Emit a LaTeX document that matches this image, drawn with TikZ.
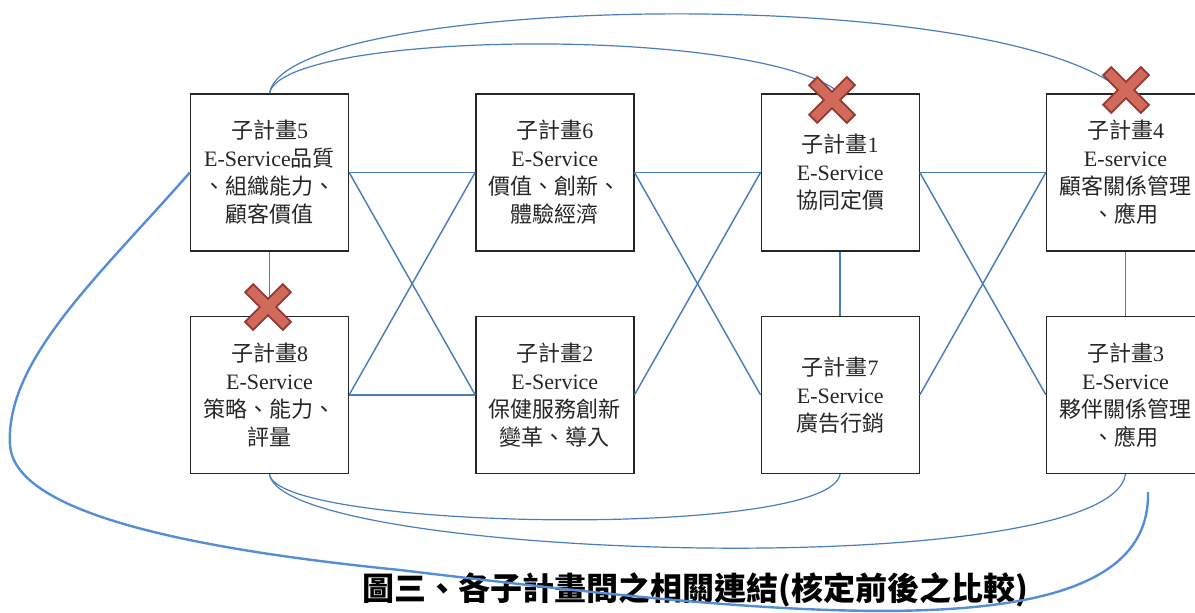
\documentclass[tikz,border=0pt]{standalone}
\usepackage{fontspec}
\setmainfont{Liberation Serif}
\newfontfamily\cjk{Noto Sans CJK TC}
\newcommand\zh[1]{{\cjk #1}}
\usetikzlibrary{positioning}
\definecolor{linkblue}{HTML}{4A7EBB}
\definecolor{curveblue}{HTML}{558ED5}
\definecolor{crossfill}{HTML}{D26A5C}
\definecolor{crossline}{HTML}{963A33}
\tikzstyle{plan}=[draw=black!85,line width=1pt,minimum width=118.5pt,minimum height=117.75pt,
  align=center,inner sep=0pt,text=black!85,font=\fontsize{16.5}{21}\selectfont]
\tikzstyle{link}=[draw=linkblue,line width=1.1pt]
\tikzstyle{arc}=[draw=linkblue,line width=0.9pt]
\tikzset{redx/.pic={
  \draw[crossline,line width=10pt] (-19.5,-19.5) -- (19.5,19.5) (-19.5,19.5) -- (19.5,-19.5);
  \draw[crossfill,line width=7pt] (-18,-18) -- (18,18) (-18,18) -- (18,-18);
}}

\begin{document}
\begin{tikzpicture}[x=0.75pt,y=-0.75pt,node distance=48pt and 94.5pt]
  \useasboundingbox (0,0) rectangle (1195,612);
  \clip (0,0) rectangle (1195,612);
  % top row
  \node[plan] (p5) at (269.5,172.5) {\zh{子計畫}5\\E-Service\zh{品質}\\\zh{、組織能力、}\\\zh{顧客價值}};
  \node[plan,right=of p5] (p6) {\zh{子計畫}6\\E-Service\\\zh{價值、創新、}\\\zh{體驗經濟}};
  \node[plan,right=of p6] (p1) {\zh{子計畫}1\\E-Service\\\zh{協同定價}};
  \node[plan,right=of p1] (p4) {\zh{子計畫}4\\E-service\\\zh{顧客關係管理}\\\zh{、應用}};
  % bottom row
  \node[plan,below=of p5] (p8) {\zh{子計畫}8\\E-Service\\\zh{策略、能力、}\\\zh{評量}};
  \node[plan,below=of p6] (p2) {\zh{子計畫}2\\E-Service\\\zh{保健服務創新}\\\zh{變革、導入}};
  \node[plan,below=of p1] (p7) {\zh{子計畫}7\\E-Service\\\zh{廣告行銷}};
  \node[plan,below=of p4] (p3) {\zh{子計畫}3\\E-Service\\\zh{夥伴關係管理}\\\zh{、應用}};
  \node[font=\fontsize{24}{29}\selectfont\bfseries] (caption) at (695,590) {\zh{圖三、各子計畫間之相關連結(核定前後之比較)}};
  \coordinate (tail) at (1148,492);

  % links between neighbours
  \draw[link] (p5.east) -- (p6.west);
  \draw[link] (p8.east) -- (p2.west);
  \draw[link] (p5.east) -- (p2.west);
  \draw[link] (p8.east) -- (p6.west);
  \draw[link] (p6.east) -- (p1.west);
  \draw[link] (p6.east) -- (p7.west);
  \draw[link] (p2.east) -- (p1.west);
  \draw[link] (p1.east) -- (p4.west);
  \draw[link] (p1.east) -- (p3.west);
  \draw[link] (p7.east) -- (p4.west);
  \draw[link] (p5.south) -- (p8.north);
  \draw[link] (p1.south) -- (p7.north);
  \draw[link] (p4.south) -- (p3.north);

  % long arcs
  \draw[arc] (p5.north) .. controls (282,30) and (760,25) .. (p1.north);
  \draw[arc] (p5.north) .. controls (285,-5) and (1000,-20) .. (p4.north);
  \draw[arc] (p8.south) .. controls (275,530) and (830,540) .. (p7.south);
  \draw[arc] (p8.south) .. controls (280,560) and (1110,585) .. (p3.south);
  \draw[curveblue,line width=1.8pt] (p5.west) .. controls (100,275) and (5,360) .. (10,445)
    .. controls (14,505) and (150,545) .. (400,570)
    .. controls (800,618) and (1152,655) .. (tail);

  % crossed out links
  \pic at (268,307) {redx};
  \pic at (832,100) {redx};
  \pic at (1126,90) {redx};
\end{tikzpicture}
\end{document}
